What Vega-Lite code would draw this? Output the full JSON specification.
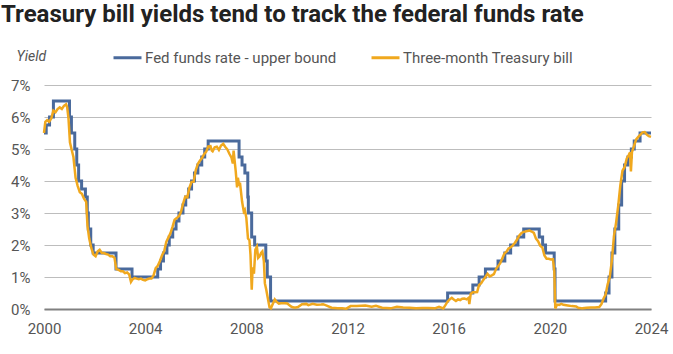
{
  "$schema": "https://vega.github.io/schema/vega-lite/v6.json",
  "width": 607,
  "height": 224,
  "autosize": {"type": "none"},
  "padding": {"left": 44, "top": 85, "right": 22, "bottom": 45},
  "background": "white",
  "title": {"text": "Treasury bill yields tend to track the federal funds rate", "anchor": "start", "frame": "group", "dx": -43, "offset": 15, "font": "Roboto", "fontSize": 24, "fontWeight": "bold", "color": "#222222"},
  "datasets": {
    "fed": [
      {"date": "2000-01-01", "yield": 5.5, "series": "Fed funds rate - upper bound"},
      {"date": "2000-02-02", "yield": 5.75, "series": "Fed funds rate - upper bound"},
      {"date": "2000-03-21", "yield": 6.0, "series": "Fed funds rate - upper bound"},
      {"date": "2000-05-16", "yield": 6.5, "series": "Fed funds rate - upper bound"},
      {"date": "2001-01-03", "yield": 6.0, "series": "Fed funds rate - upper bound"},
      {"date": "2001-01-31", "yield": 5.5, "series": "Fed funds rate - upper bound"},
      {"date": "2001-03-20", "yield": 5.0, "series": "Fed funds rate - upper bound"},
      {"date": "2001-04-18", "yield": 4.5, "series": "Fed funds rate - upper bound"},
      {"date": "2001-05-15", "yield": 4.0, "series": "Fed funds rate - upper bound"},
      {"date": "2001-06-27", "yield": 3.75, "series": "Fed funds rate - upper bound"},
      {"date": "2001-08-21", "yield": 3.5, "series": "Fed funds rate - upper bound"},
      {"date": "2001-09-17", "yield": 3.0, "series": "Fed funds rate - upper bound"},
      {"date": "2001-10-02", "yield": 2.5, "series": "Fed funds rate - upper bound"},
      {"date": "2001-11-06", "yield": 2.0, "series": "Fed funds rate - upper bound"},
      {"date": "2001-12-11", "yield": 1.75, "series": "Fed funds rate - upper bound"},
      {"date": "2002-11-06", "yield": 1.25, "series": "Fed funds rate - upper bound"},
      {"date": "2003-06-25", "yield": 1.0, "series": "Fed funds rate - upper bound"},
      {"date": "2004-06-30", "yield": 1.25, "series": "Fed funds rate - upper bound"},
      {"date": "2004-08-10", "yield": 1.5, "series": "Fed funds rate - upper bound"},
      {"date": "2004-09-21", "yield": 1.75, "series": "Fed funds rate - upper bound"},
      {"date": "2004-11-10", "yield": 2.0, "series": "Fed funds rate - upper bound"},
      {"date": "2004-12-14", "yield": 2.25, "series": "Fed funds rate - upper bound"},
      {"date": "2005-02-02", "yield": 2.5, "series": "Fed funds rate - upper bound"},
      {"date": "2005-03-22", "yield": 2.75, "series": "Fed funds rate - upper bound"},
      {"date": "2005-05-03", "yield": 3.0, "series": "Fed funds rate - upper bound"},
      {"date": "2005-06-30", "yield": 3.25, "series": "Fed funds rate - upper bound"},
      {"date": "2005-08-09", "yield": 3.5, "series": "Fed funds rate - upper bound"},
      {"date": "2005-09-20", "yield": 3.75, "series": "Fed funds rate - upper bound"},
      {"date": "2005-11-01", "yield": 4.0, "series": "Fed funds rate - upper bound"},
      {"date": "2005-12-13", "yield": 4.25, "series": "Fed funds rate - upper bound"},
      {"date": "2006-01-31", "yield": 4.5, "series": "Fed funds rate - upper bound"},
      {"date": "2006-03-28", "yield": 4.75, "series": "Fed funds rate - upper bound"},
      {"date": "2006-05-10", "yield": 5.0, "series": "Fed funds rate - upper bound"},
      {"date": "2006-06-29", "yield": 5.25, "series": "Fed funds rate - upper bound"},
      {"date": "2007-09-18", "yield": 4.75, "series": "Fed funds rate - upper bound"},
      {"date": "2007-10-31", "yield": 4.5, "series": "Fed funds rate - upper bound"},
      {"date": "2007-12-11", "yield": 4.25, "series": "Fed funds rate - upper bound"},
      {"date": "2008-01-22", "yield": 3.5, "series": "Fed funds rate - upper bound"},
      {"date": "2008-01-30", "yield": 3.0, "series": "Fed funds rate - upper bound"},
      {"date": "2008-03-18", "yield": 2.25, "series": "Fed funds rate - upper bound"},
      {"date": "2008-04-30", "yield": 2.0, "series": "Fed funds rate - upper bound"},
      {"date": "2008-10-08", "yield": 1.5, "series": "Fed funds rate - upper bound"},
      {"date": "2008-10-29", "yield": 1.0, "series": "Fed funds rate - upper bound"},
      {"date": "2008-12-16", "yield": 0.25, "series": "Fed funds rate - upper bound"},
      {"date": "2015-12-17", "yield": 0.5, "series": "Fed funds rate - upper bound"},
      {"date": "2016-12-15", "yield": 0.75, "series": "Fed funds rate - upper bound"},
      {"date": "2017-03-16", "yield": 1.0, "series": "Fed funds rate - upper bound"},
      {"date": "2017-06-15", "yield": 1.25, "series": "Fed funds rate - upper bound"},
      {"date": "2017-12-14", "yield": 1.5, "series": "Fed funds rate - upper bound"},
      {"date": "2018-03-22", "yield": 1.75, "series": "Fed funds rate - upper bound"},
      {"date": "2018-06-14", "yield": 2.0, "series": "Fed funds rate - upper bound"},
      {"date": "2018-09-27", "yield": 2.25, "series": "Fed funds rate - upper bound"},
      {"date": "2018-12-20", "yield": 2.5, "series": "Fed funds rate - upper bound"},
      {"date": "2019-08-01", "yield": 2.25, "series": "Fed funds rate - upper bound"},
      {"date": "2019-09-19", "yield": 2.0, "series": "Fed funds rate - upper bound"},
      {"date": "2019-10-31", "yield": 1.75, "series": "Fed funds rate - upper bound"},
      {"date": "2020-03-04", "yield": 1.25, "series": "Fed funds rate - upper bound"},
      {"date": "2020-03-16", "yield": 0.25, "series": "Fed funds rate - upper bound"},
      {"date": "2022-03-17", "yield": 0.5, "series": "Fed funds rate - upper bound"},
      {"date": "2022-05-05", "yield": 1.0, "series": "Fed funds rate - upper bound"},
      {"date": "2022-06-16", "yield": 1.75, "series": "Fed funds rate - upper bound"},
      {"date": "2022-07-28", "yield": 2.5, "series": "Fed funds rate - upper bound"},
      {"date": "2022-09-22", "yield": 3.25, "series": "Fed funds rate - upper bound"},
      {"date": "2022-11-03", "yield": 4.0, "series": "Fed funds rate - upper bound"},
      {"date": "2022-12-15", "yield": 4.5, "series": "Fed funds rate - upper bound"},
      {"date": "2023-02-02", "yield": 4.75, "series": "Fed funds rate - upper bound"},
      {"date": "2023-03-23", "yield": 5.0, "series": "Fed funds rate - upper bound"},
      {"date": "2023-05-04", "yield": 5.25, "series": "Fed funds rate - upper bound"},
      {"date": "2023-07-27", "yield": 5.5, "series": "Fed funds rate - upper bound"},
      {"date": "2024-01-01", "yield": 5.5, "series": "Fed funds rate - upper bound"}
    ],
    "tbill": [
      {"date": "2000-01-01", "yield": 5.5, "series": "Three-month Treasury bill"},
      {"date": "2000-01-20", "yield": 5.85, "series": "Three-month Treasury bill"},
      {"date": "2000-02-15", "yield": 5.9, "series": "Three-month Treasury bill"},
      {"date": "2000-03-15", "yield": 5.85, "series": "Three-month Treasury bill"},
      {"date": "2000-04-15", "yield": 5.95, "series": "Three-month Treasury bill"},
      {"date": "2000-05-15", "yield": 6.2, "series": "Three-month Treasury bill"},
      {"date": "2000-06-15", "yield": 6.15, "series": "Three-month Treasury bill"},
      {"date": "2000-07-15", "yield": 6.25, "series": "Three-month Treasury bill"},
      {"date": "2000-08-15", "yield": 6.3, "series": "Three-month Treasury bill"},
      {"date": "2000-09-15", "yield": 6.25, "series": "Three-month Treasury bill"},
      {"date": "2000-10-15", "yield": 6.35, "series": "Three-month Treasury bill"},
      {"date": "2000-11-15", "yield": 6.4, "series": "Three-month Treasury bill"},
      {"date": "2000-12-01", "yield": 6.3, "series": "Three-month Treasury bill"},
      {"date": "2000-12-20", "yield": 5.95, "series": "Three-month Treasury bill"},
      {"date": "2001-01-10", "yield": 5.2, "series": "Three-month Treasury bill"},
      {"date": "2001-02-01", "yield": 5.0, "series": "Three-month Treasury bill"},
      {"date": "2001-03-01", "yield": 4.75, "series": "Three-month Treasury bill"},
      {"date": "2001-04-01", "yield": 4.1, "series": "Three-month Treasury bill"},
      {"date": "2001-05-01", "yield": 3.85, "series": "Three-month Treasury bill"},
      {"date": "2001-06-01", "yield": 3.65, "series": "Three-month Treasury bill"},
      {"date": "2001-07-01", "yield": 3.6, "series": "Three-month Treasury bill"},
      {"date": "2001-08-01", "yield": 3.45, "series": "Three-month Treasury bill"},
      {"date": "2001-09-01", "yield": 3.35, "series": "Three-month Treasury bill"},
      {"date": "2001-09-20", "yield": 2.6, "series": "Three-month Treasury bill"},
      {"date": "2001-10-15", "yield": 2.2, "series": "Three-month Treasury bill"},
      {"date": "2001-11-15", "yield": 1.9, "series": "Three-month Treasury bill"},
      {"date": "2001-12-15", "yield": 1.7, "series": "Three-month Treasury bill"},
      {"date": "2002-01-15", "yield": 1.65, "series": "Three-month Treasury bill"},
      {"date": "2002-02-15", "yield": 1.8, "series": "Three-month Treasury bill"},
      {"date": "2002-03-15", "yield": 1.85, "series": "Three-month Treasury bill"},
      {"date": "2002-04-15", "yield": 1.75, "series": "Three-month Treasury bill"},
      {"date": "2002-05-15", "yield": 1.75, "series": "Three-month Treasury bill"},
      {"date": "2002-06-15", "yield": 1.72, "series": "Three-month Treasury bill"},
      {"date": "2002-07-15", "yield": 1.7, "series": "Three-month Treasury bill"},
      {"date": "2002-08-15", "yield": 1.65, "series": "Three-month Treasury bill"},
      {"date": "2002-09-15", "yield": 1.65, "series": "Three-month Treasury bill"},
      {"date": "2002-10-15", "yield": 1.6, "series": "Three-month Treasury bill"},
      {"date": "2002-11-10", "yield": 1.25, "series": "Three-month Treasury bill"},
      {"date": "2002-12-15", "yield": 1.22, "series": "Three-month Treasury bill"},
      {"date": "2003-01-15", "yield": 1.18, "series": "Three-month Treasury bill"},
      {"date": "2003-02-15", "yield": 1.18, "series": "Three-month Treasury bill"},
      {"date": "2003-03-15", "yield": 1.12, "series": "Three-month Treasury bill"},
      {"date": "2003-04-15", "yield": 1.14, "series": "Three-month Treasury bill"},
      {"date": "2003-05-15", "yield": 1.08, "series": "Three-month Treasury bill"},
      {"date": "2003-06-10", "yield": 0.85, "series": "Three-month Treasury bill"},
      {"date": "2003-07-01", "yield": 0.92, "series": "Three-month Treasury bill"},
      {"date": "2003-08-01", "yield": 0.97, "series": "Three-month Treasury bill"},
      {"date": "2003-09-01", "yield": 0.95, "series": "Three-month Treasury bill"},
      {"date": "2003-10-01", "yield": 0.93, "series": "Three-month Treasury bill"},
      {"date": "2003-11-01", "yield": 0.95, "series": "Three-month Treasury bill"},
      {"date": "2003-12-01", "yield": 0.91, "series": "Three-month Treasury bill"},
      {"date": "2004-01-01", "yield": 0.89, "series": "Three-month Treasury bill"},
      {"date": "2004-02-01", "yield": 0.93, "series": "Three-month Treasury bill"},
      {"date": "2004-03-01", "yield": 0.95, "series": "Three-month Treasury bill"},
      {"date": "2004-04-01", "yield": 0.95, "series": "Three-month Treasury bill"},
      {"date": "2004-05-01", "yield": 1.05, "series": "Three-month Treasury bill"},
      {"date": "2004-06-01", "yield": 1.28, "series": "Three-month Treasury bill"},
      {"date": "2004-07-01", "yield": 1.35, "series": "Three-month Treasury bill"},
      {"date": "2004-08-01", "yield": 1.5, "series": "Three-month Treasury bill"},
      {"date": "2004-09-01", "yield": 1.68, "series": "Three-month Treasury bill"},
      {"date": "2004-10-01", "yield": 1.8, "series": "Three-month Treasury bill"},
      {"date": "2004-11-01", "yield": 2.1, "series": "Three-month Treasury bill"},
      {"date": "2004-12-01", "yield": 2.23, "series": "Three-month Treasury bill"},
      {"date": "2005-01-01", "yield": 2.37, "series": "Three-month Treasury bill"},
      {"date": "2005-02-01", "yield": 2.58, "series": "Three-month Treasury bill"},
      {"date": "2005-03-01", "yield": 2.79, "series": "Three-month Treasury bill"},
      {"date": "2005-04-01", "yield": 2.84, "series": "Three-month Treasury bill"},
      {"date": "2005-05-01", "yield": 2.9, "series": "Three-month Treasury bill"},
      {"date": "2005-06-01", "yield": 3.03, "series": "Three-month Treasury bill"},
      {"date": "2005-07-01", "yield": 3.29, "series": "Three-month Treasury bill"},
      {"date": "2005-08-01", "yield": 3.51, "series": "Three-month Treasury bill"},
      {"date": "2005-09-01", "yield": 3.49, "series": "Three-month Treasury bill"},
      {"date": "2005-10-01", "yield": 3.79, "series": "Three-month Treasury bill"},
      {"date": "2005-11-01", "yield": 3.97, "series": "Three-month Treasury bill"},
      {"date": "2005-12-01", "yield": 3.98, "series": "Three-month Treasury bill"},
      {"date": "2006-01-01", "yield": 4.34, "series": "Three-month Treasury bill"},
      {"date": "2006-02-01", "yield": 4.54, "series": "Three-month Treasury bill"},
      {"date": "2006-03-01", "yield": 4.63, "series": "Three-month Treasury bill"},
      {"date": "2006-04-01", "yield": 4.72, "series": "Three-month Treasury bill"},
      {"date": "2006-05-01", "yield": 4.84, "series": "Three-month Treasury bill"},
      {"date": "2006-06-01", "yield": 4.92, "series": "Three-month Treasury bill"},
      {"date": "2006-07-01", "yield": 5.08, "series": "Three-month Treasury bill"},
      {"date": "2006-08-01", "yield": 5.09, "series": "Three-month Treasury bill"},
      {"date": "2006-08-20", "yield": 4.95, "series": "Three-month Treasury bill"},
      {"date": "2006-09-01", "yield": 4.93, "series": "Three-month Treasury bill"},
      {"date": "2006-10-01", "yield": 5.05, "series": "Three-month Treasury bill"},
      {"date": "2006-11-01", "yield": 5.07, "series": "Three-month Treasury bill"},
      {"date": "2006-12-01", "yield": 4.97, "series": "Three-month Treasury bill"},
      {"date": "2007-01-01", "yield": 5.11, "series": "Three-month Treasury bill"},
      {"date": "2007-02-01", "yield": 5.16, "series": "Three-month Treasury bill"},
      {"date": "2007-03-01", "yield": 5.07, "series": "Three-month Treasury bill"},
      {"date": "2007-04-01", "yield": 4.99, "series": "Three-month Treasury bill"},
      {"date": "2007-05-01", "yield": 4.85, "series": "Three-month Treasury bill"},
      {"date": "2007-06-01", "yield": 4.73, "series": "Three-month Treasury bill"},
      {"date": "2007-06-20", "yield": 4.55, "series": "Three-month Treasury bill"},
      {"date": "2007-07-01", "yield": 4.95, "series": "Three-month Treasury bill"},
      {"date": "2007-08-01", "yield": 4.3, "series": "Three-month Treasury bill"},
      {"date": "2007-08-20", "yield": 3.8, "series": "Three-month Treasury bill"},
      {"date": "2007-09-01", "yield": 4.1, "series": "Three-month Treasury bill"},
      {"date": "2007-09-20", "yield": 3.85, "series": "Three-month Treasury bill"},
      {"date": "2007-10-01", "yield": 3.95, "series": "Three-month Treasury bill"},
      {"date": "2007-11-01", "yield": 3.35, "series": "Three-month Treasury bill"},
      {"date": "2007-11-25", "yield": 3.05, "series": "Three-month Treasury bill"},
      {"date": "2007-12-10", "yield": 3.1, "series": "Three-month Treasury bill"},
      {"date": "2008-01-01", "yield": 2.85, "series": "Three-month Treasury bill"},
      {"date": "2008-01-25", "yield": 2.2, "series": "Three-month Treasury bill"},
      {"date": "2008-02-15", "yield": 2.15, "series": "Three-month Treasury bill"},
      {"date": "2008-03-01", "yield": 1.7, "series": "Three-month Treasury bill"},
      {"date": "2008-03-19", "yield": 0.6, "series": "Three-month Treasury bill"},
      {"date": "2008-04-01", "yield": 1.3, "series": "Three-month Treasury bill"},
      {"date": "2008-04-20", "yield": 1.1, "series": "Three-month Treasury bill"},
      {"date": "2008-05-10", "yield": 1.85, "series": "Three-month Treasury bill"},
      {"date": "2008-06-01", "yield": 1.95, "series": "Three-month Treasury bill"},
      {"date": "2008-06-20", "yield": 1.6, "series": "Three-month Treasury bill"},
      {"date": "2008-07-10", "yield": 1.65, "series": "Three-month Treasury bill"},
      {"date": "2008-08-01", "yield": 1.75, "series": "Three-month Treasury bill"},
      {"date": "2008-08-20", "yield": 1.8, "series": "Three-month Treasury bill"},
      {"date": "2008-09-10", "yield": 1.5, "series": "Three-month Treasury bill"},
      {"date": "2008-09-25", "yield": 0.8, "series": "Three-month Treasury bill"},
      {"date": "2008-10-15", "yield": 0.6, "series": "Three-month Treasury bill"},
      {"date": "2008-11-01", "yield": 0.4, "series": "Three-month Treasury bill"},
      {"date": "2008-12-01", "yield": 0.05, "series": "Three-month Treasury bill"},
      {"date": "2008-12-20", "yield": 0.02, "series": "Three-month Treasury bill"},
      {"date": "2009-01-15", "yield": 0.15, "series": "Three-month Treasury bill"},
      {"date": "2009-02-15", "yield": 0.3, "series": "Three-month Treasury bill"},
      {"date": "2009-03-15", "yield": 0.22, "series": "Three-month Treasury bill"},
      {"date": "2009-04-15", "yield": 0.17, "series": "Three-month Treasury bill"},
      {"date": "2009-05-15", "yield": 0.18, "series": "Three-month Treasury bill"},
      {"date": "2009-06-15", "yield": 0.18, "series": "Three-month Treasury bill"},
      {"date": "2009-07-15", "yield": 0.18, "series": "Three-month Treasury bill"},
      {"date": "2009-08-15", "yield": 0.17, "series": "Three-month Treasury bill"},
      {"date": "2009-09-15", "yield": 0.12, "series": "Three-month Treasury bill"},
      {"date": "2009-10-15", "yield": 0.07, "series": "Three-month Treasury bill"},
      {"date": "2009-11-15", "yield": 0.05, "series": "Three-month Treasury bill"},
      {"date": "2009-12-15", "yield": 0.05, "series": "Three-month Treasury bill"},
      {"date": "2010-01-15", "yield": 0.06, "series": "Three-month Treasury bill"},
      {"date": "2010-03-15", "yield": 0.15, "series": "Three-month Treasury bill"},
      {"date": "2010-05-15", "yield": 0.16, "series": "Three-month Treasury bill"},
      {"date": "2010-06-15", "yield": 0.12, "series": "Three-month Treasury bill"},
      {"date": "2010-08-15", "yield": 0.16, "series": "Three-month Treasury bill"},
      {"date": "2010-10-15", "yield": 0.13, "series": "Three-month Treasury bill"},
      {"date": "2010-12-15", "yield": 0.14, "series": "Three-month Treasury bill"},
      {"date": "2011-01-15", "yield": 0.15, "series": "Three-month Treasury bill"},
      {"date": "2011-03-15", "yield": 0.1, "series": "Three-month Treasury bill"},
      {"date": "2011-05-15", "yield": 0.04, "series": "Three-month Treasury bill"},
      {"date": "2011-08-15", "yield": 0.02, "series": "Three-month Treasury bill"},
      {"date": "2011-10-15", "yield": 0.02, "series": "Three-month Treasury bill"},
      {"date": "2011-12-15", "yield": 0.01, "series": "Three-month Treasury bill"},
      {"date": "2012-02-15", "yield": 0.09, "series": "Three-month Treasury bill"},
      {"date": "2012-05-15", "yield": 0.09, "series": "Three-month Treasury bill"},
      {"date": "2012-09-15", "yield": 0.11, "series": "Three-month Treasury bill"},
      {"date": "2012-12-15", "yield": 0.07, "series": "Three-month Treasury bill"},
      {"date": "2013-02-15", "yield": 0.1, "series": "Three-month Treasury bill"},
      {"date": "2013-05-15", "yield": 0.04, "series": "Three-month Treasury bill"},
      {"date": "2013-09-15", "yield": 0.02, "series": "Three-month Treasury bill"},
      {"date": "2013-12-15", "yield": 0.07, "series": "Three-month Treasury bill"},
      {"date": "2014-03-15", "yield": 0.05, "series": "Three-month Treasury bill"},
      {"date": "2014-06-15", "yield": 0.04, "series": "Three-month Treasury bill"},
      {"date": "2014-09-15", "yield": 0.02, "series": "Three-month Treasury bill"},
      {"date": "2014-12-15", "yield": 0.03, "series": "Three-month Treasury bill"},
      {"date": "2015-03-15", "yield": 0.03, "series": "Three-month Treasury bill"},
      {"date": "2015-06-15", "yield": 0.02, "series": "Three-month Treasury bill"},
      {"date": "2015-08-15", "yield": 0.07, "series": "Three-month Treasury bill"},
      {"date": "2015-10-15", "yield": 0.02, "series": "Three-month Treasury bill"},
      {"date": "2015-11-15", "yield": 0.12, "series": "Three-month Treasury bill"},
      {"date": "2015-12-15", "yield": 0.23, "series": "Three-month Treasury bill"},
      {"date": "2016-01-15", "yield": 0.3, "series": "Three-month Treasury bill"},
      {"date": "2016-02-15", "yield": 0.35, "series": "Three-month Treasury bill"},
      {"date": "2016-03-15", "yield": 0.3, "series": "Three-month Treasury bill"},
      {"date": "2016-04-15", "yield": 0.25, "series": "Three-month Treasury bill"},
      {"date": "2016-05-15", "yield": 0.3, "series": "Three-month Treasury bill"},
      {"date": "2016-06-15", "yield": 0.28, "series": "Three-month Treasury bill"},
      {"date": "2016-07-15", "yield": 0.32, "series": "Three-month Treasury bill"},
      {"date": "2016-08-15", "yield": 0.33, "series": "Three-month Treasury bill"},
      {"date": "2016-09-15", "yield": 0.3, "series": "Three-month Treasury bill"},
      {"date": "2016-10-15", "yield": 0.35, "series": "Three-month Treasury bill"},
      {"date": "2016-10-25", "yield": 0.15, "series": "Three-month Treasury bill"},
      {"date": "2016-11-15", "yield": 0.48, "series": "Three-month Treasury bill"},
      {"date": "2016-12-15", "yield": 0.52, "series": "Three-month Treasury bill"},
      {"date": "2017-01-15", "yield": 0.52, "series": "Three-month Treasury bill"},
      {"date": "2017-02-15", "yield": 0.53, "series": "Three-month Treasury bill"},
      {"date": "2017-03-15", "yield": 0.75, "series": "Three-month Treasury bill"},
      {"date": "2017-04-15", "yield": 0.81, "series": "Three-month Treasury bill"},
      {"date": "2017-05-15", "yield": 0.91, "series": "Three-month Treasury bill"},
      {"date": "2017-06-15", "yield": 1.0, "series": "Three-month Treasury bill"},
      {"date": "2017-07-15", "yield": 1.1, "series": "Three-month Treasury bill"},
      {"date": "2017-08-15", "yield": 1.02, "series": "Three-month Treasury bill"},
      {"date": "2017-09-15", "yield": 1.05, "series": "Three-month Treasury bill"},
      {"date": "2017-10-15", "yield": 1.09, "series": "Three-month Treasury bill"},
      {"date": "2017-11-15", "yield": 1.25, "series": "Three-month Treasury bill"},
      {"date": "2017-12-15", "yield": 1.34, "series": "Three-month Treasury bill"},
      {"date": "2018-01-15", "yield": 1.43, "series": "Three-month Treasury bill"},
      {"date": "2018-02-15", "yield": 1.59, "series": "Three-month Treasury bill"},
      {"date": "2018-03-15", "yield": 1.73, "series": "Three-month Treasury bill"},
      {"date": "2018-04-15", "yield": 1.79, "series": "Three-month Treasury bill"},
      {"date": "2018-05-15", "yield": 1.89, "series": "Three-month Treasury bill"},
      {"date": "2018-06-15", "yield": 1.93, "series": "Three-month Treasury bill"},
      {"date": "2018-07-15", "yield": 1.99, "series": "Three-month Treasury bill"},
      {"date": "2018-08-15", "yield": 2.07, "series": "Three-month Treasury bill"},
      {"date": "2018-09-15", "yield": 2.17, "series": "Three-month Treasury bill"},
      {"date": "2018-10-15", "yield": 2.29, "series": "Three-month Treasury bill"},
      {"date": "2018-11-15", "yield": 2.37, "series": "Three-month Treasury bill"},
      {"date": "2018-12-15", "yield": 2.41, "series": "Three-month Treasury bill"},
      {"date": "2019-01-15", "yield": 2.42, "series": "Three-month Treasury bill"},
      {"date": "2019-02-15", "yield": 2.44, "series": "Three-month Treasury bill"},
      {"date": "2019-03-15", "yield": 2.45, "series": "Three-month Treasury bill"},
      {"date": "2019-04-15", "yield": 2.42, "series": "Three-month Treasury bill"},
      {"date": "2019-05-15", "yield": 2.38, "series": "Three-month Treasury bill"},
      {"date": "2019-06-15", "yield": 2.2, "series": "Three-month Treasury bill"},
      {"date": "2019-07-15", "yield": 2.12, "series": "Three-month Treasury bill"},
      {"date": "2019-08-15", "yield": 1.98, "series": "Three-month Treasury bill"},
      {"date": "2019-09-15", "yield": 1.92, "series": "Three-month Treasury bill"},
      {"date": "2019-10-15", "yield": 1.67, "series": "Three-month Treasury bill"},
      {"date": "2019-11-15", "yield": 1.57, "series": "Three-month Treasury bill"},
      {"date": "2019-12-15", "yield": 1.57, "series": "Three-month Treasury bill"},
      {"date": "2020-01-15", "yield": 1.55, "series": "Three-month Treasury bill"},
      {"date": "2020-02-15", "yield": 1.56, "series": "Three-month Treasury bill"},
      {"date": "2020-03-05", "yield": 1.2, "series": "Three-month Treasury bill"},
      {"date": "2020-03-20", "yield": 0.02, "series": "Three-month Treasury bill"},
      {"date": "2020-04-15", "yield": 0.14, "series": "Three-month Treasury bill"},
      {"date": "2020-05-15", "yield": 0.13, "series": "Three-month Treasury bill"},
      {"date": "2020-06-15", "yield": 0.16, "series": "Three-month Treasury bill"},
      {"date": "2020-07-15", "yield": 0.13, "series": "Three-month Treasury bill"},
      {"date": "2020-09-15", "yield": 0.11, "series": "Three-month Treasury bill"},
      {"date": "2020-11-15", "yield": 0.09, "series": "Three-month Treasury bill"},
      {"date": "2021-01-15", "yield": 0.08, "series": "Three-month Treasury bill"},
      {"date": "2021-02-15", "yield": 0.04, "series": "Three-month Treasury bill"},
      {"date": "2021-04-15", "yield": 0.02, "series": "Three-month Treasury bill"},
      {"date": "2021-06-15", "yield": 0.04, "series": "Three-month Treasury bill"},
      {"date": "2021-08-15", "yield": 0.05, "series": "Three-month Treasury bill"},
      {"date": "2021-10-15", "yield": 0.05, "series": "Three-month Treasury bill"},
      {"date": "2021-12-15", "yield": 0.06, "series": "Three-month Treasury bill"},
      {"date": "2022-01-15", "yield": 0.15, "series": "Three-month Treasury bill"},
      {"date": "2022-02-15", "yield": 0.33, "series": "Three-month Treasury bill"},
      {"date": "2022-03-15", "yield": 0.44, "series": "Three-month Treasury bill"},
      {"date": "2022-04-15", "yield": 0.77, "series": "Three-month Treasury bill"},
      {"date": "2022-05-15", "yield": 0.99, "series": "Three-month Treasury bill"},
      {"date": "2022-06-15", "yield": 1.52, "series": "Three-month Treasury bill"},
      {"date": "2022-07-15", "yield": 2.28, "series": "Three-month Treasury bill"},
      {"date": "2022-08-15", "yield": 2.7, "series": "Three-month Treasury bill"},
      {"date": "2022-09-15", "yield": 3.23, "series": "Three-month Treasury bill"},
      {"date": "2022-10-15", "yield": 3.86, "series": "Three-month Treasury bill"},
      {"date": "2022-11-15", "yield": 4.32, "series": "Three-month Treasury bill"},
      {"date": "2022-12-15", "yield": 4.43, "series": "Three-month Treasury bill"},
      {"date": "2023-01-15", "yield": 4.7, "series": "Three-month Treasury bill"},
      {"date": "2023-02-15", "yield": 4.82, "series": "Three-month Treasury bill"},
      {"date": "2023-03-05", "yield": 4.9, "series": "Three-month Treasury bill"},
      {"date": "2023-03-17", "yield": 4.3, "series": "Three-month Treasury bill"},
      {"date": "2023-04-01", "yield": 4.9, "series": "Three-month Treasury bill"},
      {"date": "2023-05-01", "yield": 5.1, "series": "Three-month Treasury bill"},
      {"date": "2023-06-01", "yield": 5.3, "series": "Three-month Treasury bill"},
      {"date": "2023-07-01", "yield": 5.38, "series": "Three-month Treasury bill"},
      {"date": "2023-08-01", "yield": 5.45, "series": "Three-month Treasury bill"},
      {"date": "2023-09-01", "yield": 5.52, "series": "Three-month Treasury bill"},
      {"date": "2023-10-01", "yield": 5.53, "series": "Three-month Treasury bill"},
      {"date": "2023-11-01", "yield": 5.45, "series": "Three-month Treasury bill"},
      {"date": "2023-12-01", "yield": 5.4, "series": "Three-month Treasury bill"},
      {"date": "2024-01-01", "yield": 5.38, "series": "Three-month Treasury bill"}
    ]
  },
  "encoding": {
    "x": {
      "field": "date", "type": "temporal",
      "scale": {"domain": ["2000-01-01", "2024-01-01"]},
      "axis": {
        "title": null, "grid": false, "ticks": false,
        "values": ["2000-01-01", "2004-01-01", "2008-01-01", "2012-01-01", "2016-01-01", "2020-01-01", "2024-01-01"],
        "format": "%Y", "labelFlush": false,
        "domainColor": "#808080", "domainWidth": 2,
        "labelPadding": 12, "labelFont": "Roboto", "labelFontSize": 15, "labelColor": "#555555"
      }
    },
    "y": {
      "field": "yield", "type": "quantitative",
      "scale": {"domain": [0, 7], "nice": false},
      "axis": {
        "values": [0, 1, 2, 3, 4, 5, 6, 7],
        "labelExpr": "datum.value + '%'",
        "title": "Yield", "titleAngle": 0, "titleX": -28, "titleY": -29,
        "titleAlign": "left", "titleBaseline": "middle",
        "titleFont": "Roboto", "titleFontStyle": "italic", "titleFontWeight": "normal",
        "titleFontSize": 14, "titleColor": "#555555",
        "domain": false, "ticks": false, "labelPadding": 14,
        "labelFont": "Roboto", "labelFontSize": 15, "labelColor": "#555555",
        "gridColor": "#bdbdbd", "gridWidth": 1
      }
    },
    "color": {
      "field": "series", "type": "nominal",
      "scale": {"domain": ["Fed funds rate - upper bound", "Three-month Treasury bill"], "range": ["#4a6a9c", "#f0a81e"]},
      "legend": {
        "orient": "none", "legendX": 68, "legendY": -43, "direction": "horizontal",
        "title": null, "symbolType": "stroke", "symbolSize": 784, "symbolStrokeWidth": 3,
        "labelFont": "Roboto", "labelFontSize": 15, "labelColor": "#555555", "labelLimit": 400,
        "labelOffset": 2, "columnPadding": 28, "padding": 0
      }
    }
  },
  "layer": [
    {"data": {"name": "fed"}, "mark": {"type": "line", "interpolate": "step-after", "strokeWidth": 3}},
    {"data": {"name": "tbill"}, "mark": {"type": "line", "strokeWidth": 2.5}}
  ],
  "config": {"view": {"stroke": null}}
}
